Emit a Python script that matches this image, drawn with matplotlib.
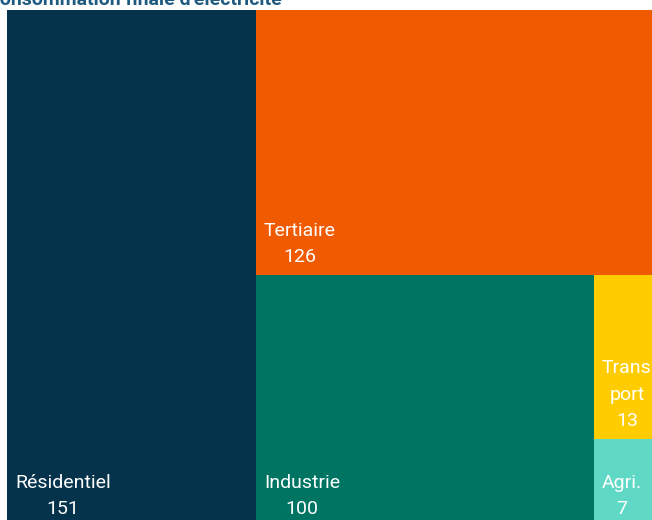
import matplotlib
matplotlib.use("Agg")
import matplotlib.pyplot as plt
from matplotlib.patches import Rectangle

# Data
categories = ["Résidentiel", "Tertiaire", "Industrie", "Transport", "Agri."]
label_texts = ["Résidentiel", "Tertiaire", "Industrie", "Trans\nport", "Agri."]
values = [151, 126, 100, 13, 7]
colors = ["#05334B", "#F05A00", "#007462", "#FFCC00", "#5FD8C6"]
title = "Consommation finale d'électricité"

total = sum(values)

fig = plt.figure(figsize=(6.52, 5.20), dpi=100)
fig.patch.set_facecolor("white")
ax = fig.add_axes([7 / 652, -0.0144, 1.004, 0.9952])
ax.set_xlim(0, 1)
ax.set_ylim(0, 1)
ax.axis("off")

# Layout (treemap style): first item full-height column,
# second item full-width row on top of remainder, then row of the rest.
rects = []
w0 = values[0] / total
rects.append((0, 0, w0, 1))
rem_w = 1 - w0
rem_total = total - values[0]
h1 = values[1] / rem_total
rects.append((w0, 1 - h1, rem_w, h1))
bottom_h = 1 - h1
rest_total = rem_total - values[1]
w2 = values[2] / rest_total * rem_w
rects.append((w0, 0, w2, bottom_h))
col_total = values[3] + values[4]
x3 = w0 + w2
w3 = rem_w - w2
h3 = values[3] / col_total * bottom_h
rects.append((x3, bottom_h - h3, w3, h3))
rects.append((x3, 0, w3, bottom_h - h3))

for (x, y, w, h), c, lab, v in zip(rects, colors, label_texts, values):
    ax.add_patch(Rectangle((x, y), w, h, facecolor=c, edgecolor="none"))
    ax.annotate(f"{lab}\n{v}", xy=(x, y), xytext=(8 * 0.72, 9 * 0.72),
                textcoords="offset points", ha="left", va="bottom",
                multialignment="center", color="white", fontsize=14,
                family="Roboto", linespacing=1.6)

fig.text(-13 / 652, 1.0, title, ha="left", va="center", fontsize=14,
         fontweight="bold", color="#1F5A80", family="Roboto")

fig.savefig("out.png", dpi=100)
